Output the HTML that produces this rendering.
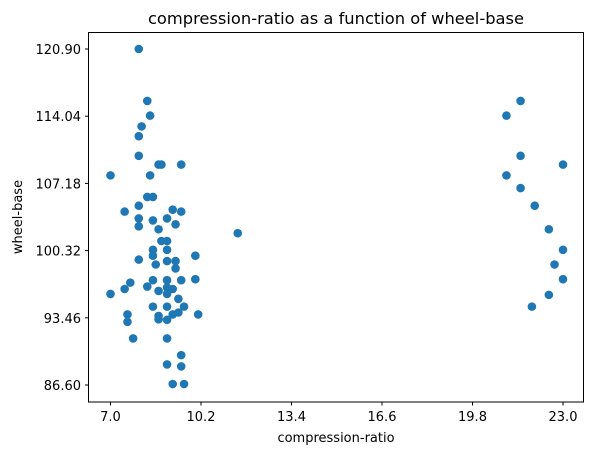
<!DOCTYPE html>
<html><head><meta charset="utf-8"><style>
body{margin:0;background:#fff;}
svg{display:block;font-family:"DejaVu Sans","Liberation Sans",sans-serif;}
</style></head><body>
<svg id="chart" width="593" height="455" viewBox="0 0 593 455" xmlns="http://www.w3.org/2000/svg">
<rect width="593" height="455" fill="#fff"/>
<text x="336" y="24" font-size="16.3" text-anchor="middle" fill="#000">compression-ratio as a function of wheel-base</text>
<g id="marks"></g>
<rect x="88.5" y="32.5" width="495" height="369.5" fill="none" stroke="#000" stroke-width="1"/>
<g id="xt"></g>
<g id="yt"></g>
<text x="336" y="442" font-size="13" text-anchor="middle">compression-ratio</text>
<text transform="translate(22,217) rotate(-90)" font-size="13" text-anchor="middle">wheel-base</text>
</svg>
<script>
const xTicks=[7.0,10.2,13.4,16.6,19.8,23.0];
const yTicks=[86.60,93.46,100.32,107.18,114.04,120.90];
const xVals=[8.0,8.3,8.4,8.1,8.0,8.0,8.7,8.8,9.5,7.0,8.4,8.3,8.5,8.0,7.5,9.2,9.5,8.0,8.5,9.0,9.3,8.0,8.7,11.5,8.8,9.0,8.5,9.0,8.5,10.0,8.0,8.6,9.0,9.3,9.3,8.5,9.0,9.5,10.0,7.7,7.5,7.0,8.3,8.7,9.0,9.2,9.0,9.4,8.5,9.0,9.6,9.4,8.7,9.2,7.6,7.6,10.1,8.7,9.0,7.8,9.0,9.5,9.0,9.5,9.2,9.6,
21.5,21.0,21.5,23.0,21.0,21.5,22.0,22.5,23.0,22.7,23.0,22.5,21.9];
const yVals=[120.9,115.6,114.1,113.0,112.0,110.0,109.1,109.1,109.1,108.0,108.0,105.8,105.8,104.9,104.3,104.5,104.3,103.6,103.4,103.6,103.0,102.8,102.5,102.1,101.3,101.3,100.4,100.4,99.8,99.8,99.4,98.9,99.25,99.25,98.5,97.3,97.3,97.3,97.4,97.05,96.4,95.9,96.65,96.2,96.55,96.4,95.9,95.4,94.6,94.6,94.6,94.0,93.65,93.8,93.8,93.05,93.8,93.3,93.25,91.35,91.35,89.65,88.7,88.5,86.7,86.7,
115.6,114.1,110.0,109.1,108.0,106.7,104.9,102.5,100.4,98.9,97.4,95.8,94.6];
const NS="http://www.w3.org/2000/svg";
function sx(v){return 110.5+(v-7.0)*(563-110.5)/16;}
function sy(v){return 385+(v-86.6)*(49-385)/34.3;}
const marks=document.getElementById('marks');
for(let i=0;i<xVals.length;i++){
  const c=document.createElementNS(NS,'circle');
  c.setAttribute('cx',sx(xVals[i]));c.setAttribute('cy',sy(yVals[i]));
  c.setAttribute('r',4.3);c.setAttribute('fill','#1f77b4');
  
  
  marks.appendChild(c);
}
const xt=document.getElementById('xt');
xTicks.forEach(t=>{
  const x=sx(t);
  const l=document.createElementNS(NS,'line');
  l.setAttribute('x1',x);l.setAttribute('x2',x);l.setAttribute('y1',402);l.setAttribute('y2',405.5);l.setAttribute('stroke','#000');
  
  
  xt.appendChild(l);
  const tx=document.createElementNS(NS,'text');
  tx.setAttribute('x',x);tx.setAttribute('y',421);tx.setAttribute('font-size','13');tx.setAttribute('text-anchor','middle');
  tx.textContent=t.toFixed(1);
  
  
  xt.appendChild(tx);
});
const yt=document.getElementById('yt');
yTicks.forEach(t=>{
  const y=sy(t);
  const l=document.createElementNS(NS,'line');
  l.setAttribute('x1',85);l.setAttribute('x2',88.5);l.setAttribute('y1',y);l.setAttribute('y2',y);l.setAttribute('stroke','#000');
  
  
  yt.appendChild(l);
  const tx=document.createElementNS(NS,'text');
  tx.setAttribute('x',81);tx.setAttribute('y',y+5);tx.setAttribute('font-size','13');tx.setAttribute('text-anchor','end');
  tx.textContent=t.toFixed(2);
  
  
  yt.appendChild(tx);
});
</script>
</body></html>
